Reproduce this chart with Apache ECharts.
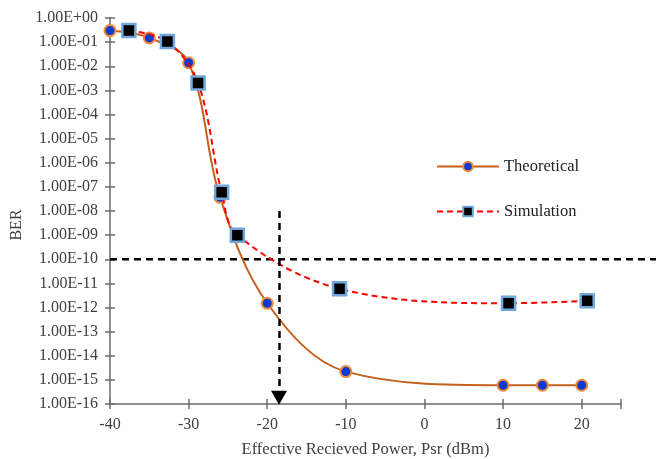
<!DOCTYPE html>
<html>
<head>
<meta charset="UTF-8">
<script src="https://cdn.jsdelivr.net/npm/echarts@6/dist/echarts.min.js"></script>
<style>
  body { margin: 0; background: #fff; }
  #chart { width: 658px; height: 459px; }
</style>
</head>
<body>
<div id="chart"></div>
<script>
  // data
  const theoX = [-40, -35, -30, -26, -20, -10, 10, 15, 20];
  const theoBer = [3e-1, 1.5e-1, 1.4e-2, 3.7e-8, 1.5e-12, 2.2e-15, 6e-16, 6e-16, 6e-16];
  const simX = [-37.6, -32.7, -28.8, -25.8, -23.8, -10.8, 10.7, 20.7];
  const simBer = [3e-1, 1.05e-1, 2e-3, 6e-8, 1e-9, 6e-12, 1.5e-12, 1.9e-12];
  const thresholdBer = 1e-10;
  const markerX = -18.5;

  const font = 'Liberation Serif';
  const axisColor = '#6b6b6b';
  const textColor = '#404040';

  function sci(v) {
    const e = Math.round(Math.log10(v));
    return '1.00E' + (e < 0 ? '-' : '+') + String(Math.abs(e)).padStart(2, '0');
  }

  const chart = echarts.init(document.getElementById('chart'));
  const option = {
    animation: false,
    grid: { left: 110, right: 37, top: 18, bottom: 55, containLabel: false, outerBoundsMode: 'none' },
    legend: {
      orient: 'vertical',
      left: 431, top: 153,
      itemWidth: 62, itemHeight: 12, itemGap: 28,
      textStyle: { fontFamily: font, fontSize: 16.5, color: '#222' },
      data: ['Theoretical', 'Simulation']
    },
    xAxis: [{
      type: 'value', min: -40, max: 25, interval: 10,
      name: 'Effective Recieved Power, Psr (dBm)',
      nameLocation: 'middle', nameGap: 37,
      nameTextStyle: { fontFamily: font, fontSize: 16.5, color: textColor },
      axisLine: { onZero: false, lineStyle: { color: axisColor, width: 1.5 } },
      axisTick: { length: 5, lineStyle: { color: axisColor, width: 1.5 } },
      axisLabel: { fontFamily: font, fontSize: 16, color: textColor, margin: 13,
        formatter: v => (v > 20 ? '' : String(v)) },
      splitLine: { show: false }
    }, {
      type: 'value', min: -40, max: 25, interval: 10, position: 'bottom',
      axisLine: { show: false, onZero: false },
      axisTick: { inside: true, length: 5, lineStyle: { color: axisColor, width: 1.5 } },
      axisLabel: { show: false }, splitLine: { show: false }
    }],
    yAxis: [{
      type: 'log', logBase: 10, min: 1e-16, max: 1, interval: 1,
      name: 'BER', nameLocation: 'middle', nameGap: 85, nameRotate: 90,
      nameTextStyle: { fontFamily: font, fontSize: 16, color: textColor, padding: [0, 28, 0, 0] },
      axisLine: { show: true, onZero: false, lineStyle: { color: axisColor, width: 1.5 } },
      axisTick: { show: true, length: 5, lineStyle: { color: axisColor, width: 1.5 } },
      axisLabel: { fontFamily: font, fontSize: 16, color: textColor, margin: 12, formatter: sci },
      splitLine: { show: false }
    }, {
      type: 'log', logBase: 10, min: 1e-16, max: 1, interval: 1, position: 'left',
      axisLine: { show: false, onZero: false },
      axisTick: { show: true, inside: true, length: 5, lineStyle: { color: axisColor, width: 1.5 } },
      axisLabel: { show: false }, splitLine: { show: false }
    }],
    series: [{
      name: 'Theoretical', type: 'line', smooth: 0.35,
      data: theoX.map((x, i) => [x, theoBer[i]]),
      symbol: 'circle', symbolSize: 11,
      lineStyle: { color: '#c5601c', width: 2 },
      itemStyle: { color: '#0a3ad0', borderColor: '#f08a3a', borderWidth: 2 },
      z: 3,
      markLine: {
        silent: true, symbol: ['none', 'triangle'], symbolSize: [16, 14],
        label: { show: false },
        lineStyle: { color: '#000', type: [7, 5], width: 2.5 },
        data: [[{ coord: [markerX, 1e-8] }, { coord: [markerX, 1.8e-16] }]]
      }
    }, {
      name: 'Simulation', type: 'line', smooth: 0.35,
      data: simX.map((x, i) => [x, simBer[i]]),
      symbol: 'rect', symbolSize: 13,
      lineStyle: { color: '#ff0000', width: 2, type: [6, 4] },
      itemStyle: { color: '#000', borderColor: '#6fa6dc', borderWidth: 2.5 },
      z: 4
    }]
  };
  chart.setOption(option);

  // horizontal threshold line runs past the end of the axis, to the frame edge
  const p0 = chart.convertToPixel({ xAxisIndex: 0, yAxisIndex: 0 }, [-40, thresholdBer]);
  chart.setOption({
    graphic: [{
      type: 'line', silent: true, z: 2,
      shape: { x1: p0[0], y1: p0[1], x2: 656, y2: p0[1] },
      style: { stroke: '#000', lineWidth: 2.5, lineDash: [7, 5] }
    }]
  });
</script>
</body>
</html>
